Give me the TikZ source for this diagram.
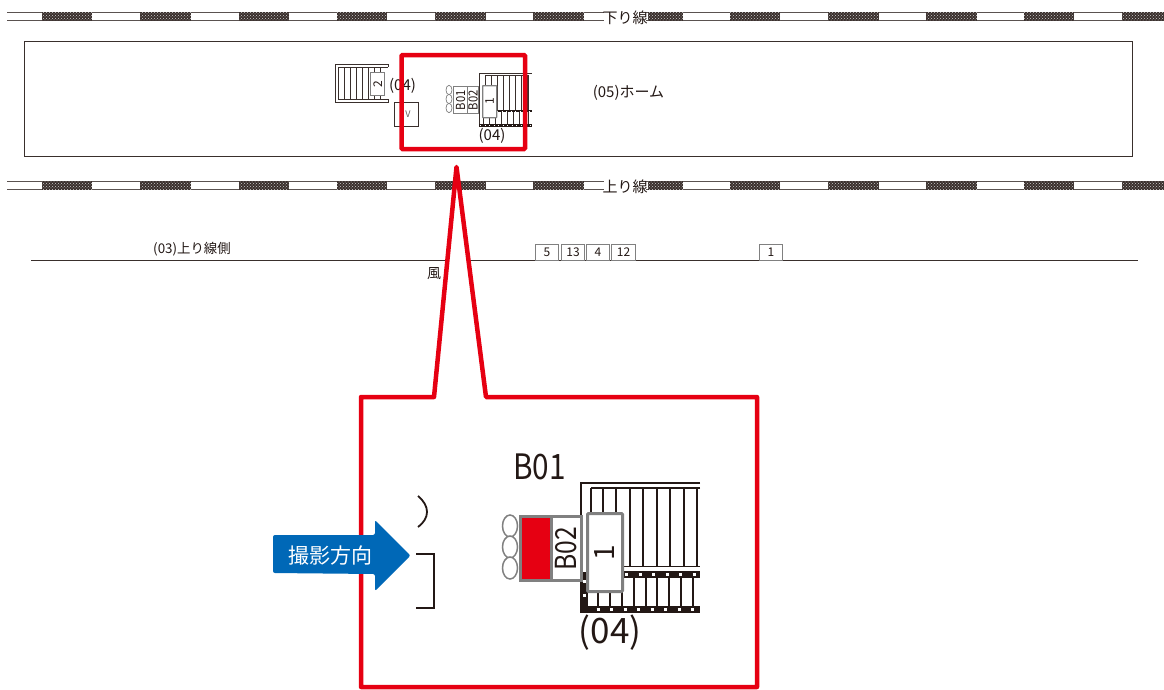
\documentclass[tikz,border=0pt]{standalone}
\usepackage{fontspec}
\setmainfont{Noto Sans CJK JP}
\usetikzlibrary{patterns}
\definecolor{ink}{HTML}{231815}
\definecolor{wallred}{HTML}{E60012}
\definecolor{arrowblue}{HTML}{0068B7}
\newcommand{\fs}[1]{\fontsize{#1}{#1}\selectfont}
\begin{document}
\begin{tikzpicture}[x=1pt,y=-1pt,
 thin line/.style={draw=ink!90, line width=1pt},
 rail/.style={draw=ink!75, line width=1pt},
 sleeper/.style={draw=none, preaction={fill=ink!90}, pattern=crosshatch dots, pattern color=white!60!gray},
 label/.style={inner sep=0pt, text=ink, font=\fs{15}},
 door/.style={draw=gray, fill=white, line width=1pt, inner sep=0pt, text=ink, font=\fs{12}, anchor=north west, minimum height=16pt},
 part/.style={draw=gray, fill=white, line width=1.3pt, inner sep=0pt, text=ink, anchor=north west},
 band/.style={line width=7pt, draw=ink},
 bandholes/.style={line width=3pt, draw=white, dash pattern=on 3pt off 10.5pt},
 bandsmall/.style={line width=2.5pt, draw=ink},
 bandsmallholes/.style={line width=0.9pt, draw=white, dash pattern=on 1pt off 3.5pt}]

 \useasboundingbox (0,0) rectangle (1164,689);

 % down track
 \draw[rail] (7,12.5) -- (604,12.5) (7,20) -- (604,20);
 \draw[rail] (646,12.5) -- (1164,12.5) (646,20) -- (1164,20);
 \foreach \xa/\xb in {42/92,140/191,239/289,337/387,435/486,533/584,648/683,730/780,828/879,926/977,1024/1074,1122/1164}
  \fill[sleeper] (\xa,12) rectangle (\xb,20.5);
 \node[label] (downlabel) at (625,18) {下り線};

 % up track
 \draw[rail] (7,181.5) -- (604,181.5) (7,189) -- (604,189);
 \draw[rail] (646,181.5) -- (1164,181.5) (646,189) -- (1164,189);
 \foreach \xa/\xb in {42/92,140/191,239/289,337/387,435/486,533/584,648/683,730/780,828/879,926/977,1024/1074,1122/1164}
  \fill[sleeper] (\xa,181) rectangle (\xb,189.5);
 \node[label] (uplabel) at (625,187) {上り線};

 % platform
 \draw[thin line] (24,41) rectangle (1132,156);
 \node[label] (platform) at (628.5,93) {(05)ホーム};

 % stairs 2
 \draw[thin line] (335,64) -- (388,64) -- (388,67) (335,102) -- (388,102) -- (388,99);
 \draw[thin line] (338,67) -- (388,67) (338,99) -- (388,99) (335,64) -- (335,102);
 \foreach \x in {338,344,350,356,362,368,374,380}
  \draw[thin line] (\x,67) -- (\x,99);
 \node[part, minimum width=14pt, minimum height=23pt] (stairs two) at (370,72) {};
 \node[label, rotate=90, font=\fs{12}] (two) at (stairs two.center) {2};
 \node[label] (stairs two code) at (402.5,86) {(04)};

 % elevator
 \node[part, draw=ink!90, line width=1pt, minimum width=24pt, minimum height=24pt] (ev) at (394,102) {};
 \node[label, text=ink!70, font=\fs{9}] (ev text) at (408,114) {V};

 % stairs 1
 \draw[thin line] (479,126) -- (479,73) -- (532,73) (485,75.5) -- (528,75.5) -- (528,125);
 \foreach \x in {485,491,497,503,509,515,521,527}
  \draw[thin line] (\x,75.5) -- (\x,110);
 \foreach \x in {483,489,495,501,507,513,519,525}
  \draw[thin line] (\x,112) -- (\x,125);
 \draw[bandsmall] (496,111) -- (532,111) (479,125.5) -- (532,125.5);
 \draw[bandsmallholes] (497,111) -- (532,111) (480,125.5) -- (532,125.5);

 % small benches
 \foreach \y in {90,99,108}
  \draw[draw=gray, fill=white, line width=0.7pt] (449,\y) ellipse (3 and 4.7);
 \node[part, minimum width=14pt, minimum height=27pt] (bench one) at (453,86) {};
 \node[part, minimum width=11pt, minimum height=27pt] (bench two) at (467,86) {};
 \node[label, rotate=90, font=\fs{12.5}, xscale=0.9] (bench one text) at (bench one.center) {B01};
 \node[label, rotate=90, font=\fs{12.5}, xscale=0.9] (bench two text) at (bench two.center) {B02};
 \node[part, rounded corners=0.5pt, minimum width=14pt, minimum height=32pt] (stairs one) at (482,85) {};
 \node[label, rotate=90, font=\fs{12}] (one) at (stairs one.center) {1};
 \node[label] (stairs one code) at (492,136) {(04)};

 % street side
 \node[label, font=\fs{13.4}] (street) at (192,249) {(03)上り線側};
 \draw[thin line] (31,260) -- (1138,260);
 \foreach \x/\w/\t in {535/23/5,561/23/13,586/23/4,611/24/12,759/23/1}
  \node[door, minimum width=\w pt] (door \t) at (\x,243.5) {\t};
 \node[label, font=\fs{14}] (wind) at (434,274) {風};

 % red frame
 \draw[draw=wallred, line width=4.5pt, rounded corners=1pt] (401.5,55) rectangle (525,149);

 % callout
 \draw[draw=wallred, fill=white, line width=4.5pt, line join=round]
  (361,687) -- (361,397) -- (434,397) -- (456.5,167) -- (486,397) -- (757,397) -- (757,687) -- cycle;

 % enlarged stairs
 \draw[ink, line width=1.8pt] (700,483) -- (581,483) -- (581,613);
 \draw[ink, line width=1.6pt] (700,488) -- (591,488);
 \foreach \x in {591,603,616,630,643,657,670,684,697}
  \draw[ink, line width=1.5pt] (\x,488) -- (\x,566);
 \draw[ink, line width=1pt] (621,566) -- (700,566);
 \foreach \x in {598,610,622,634,646,657,669,681,693}
  \draw[ink, line width=1.5pt] (\x,578) -- (\x,606);
 \draw[band] (621,574.5) -- (700,574.5);
 \draw[bandholes] (625,574.5) -- (700,574.5);
 \draw[band] (580,609.5) -- (700,609.5);
 \draw[bandholes] (583,609.5) -- (700,609.5);
 \draw[band] (584,572) -- (584,613);
 \draw[bandholes] (584,580) -- (584,606);

 % enlarged benches
 \foreach \y in {526,547,568}
  \draw[draw=gray, fill=white, line width=1.5pt] (510,\y) ellipse (7.5 and 11);
 \node[part, fill=wallred, line width=3pt, minimum width=31pt, minimum height=64pt] (big bench one) at (519,515) {};
 \node[part, line width=3pt, minimum width=30pt, minimum height=64pt] (big bench two) at (550,515) {};
 \node[label, rotate=90, font=\fs{29}, xscale=0.85] (big bench two text) at (big bench two.center) {B02};
 \node[part, line width=3pt, rounded corners=1pt, minimum width=35pt, minimum height=78pt] (big stairs one) at (586,512) {};
 \node[label, rotate=90, font=\fs{28}] (big one) at (big stairs one.center) {1};
 \node[label, font=\fs{35}, xscale=0.85] (big bench one text) at (539.5,467) {B01};
 \node[label, font=\fs{35}] (big stairs one code) at (610,633) {(04)};

 % wall marks
 \draw[ink, line width=1.8pt] (418,496) .. controls (430,506) and (430,518) .. (418,527);
 \draw[ink, line width=1.8pt] (416,554) -- (434,554) -- (434,608) -- (416,608);

 % camera direction
 \fill[arrowblue, rounded corners=2pt] (273,535) -- (375,535) -- (375,520) -- (410.5,555.5) -- (375,591) -- (375,574) -- (273,573) -- cycle;
 \node[label, text=white, font=\fs{21}] (camera) at (330,556) {撮影方向};
\end{tikzpicture}
\end{document}
